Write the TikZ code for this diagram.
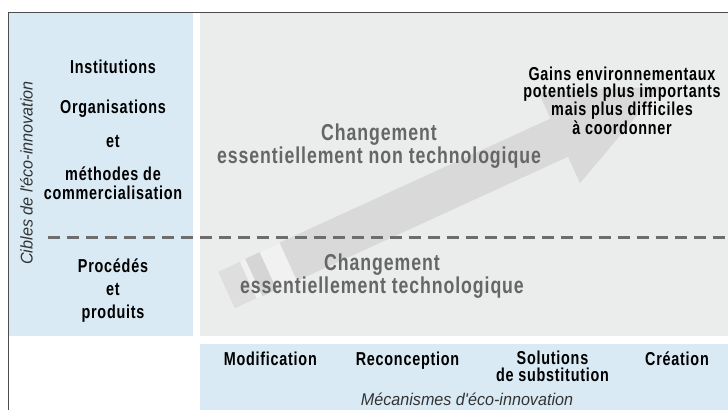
\documentclass[tikz,border=0pt]{standalone}
\usepackage{fontspec}
\setmainfont{Liberation Sans}
\newfontfamily\bcond[FakeStretch=0.77,LetterSpace=4]{Liberation Sans}
\newfontfamily\icond[FakeStretch=0.95]{Liberation Sans}
\definecolor{panelblue}{HTML}{DAEAF4}
\definecolor{panelgrey}{HTML}{EBECEC}
\definecolor{arrowgrey}{HTML}{D9D9DA}
\definecolor{arrowlight}{HTML}{DEDEDF}
\definecolor{arrowdark}{HTML}{D5D5D6}
\definecolor{stripe}{HTML}{F1F1F1}
\definecolor{dashgrey}{HTML}{6D6D6D}
\definecolor{greytext}{HTML}{666666}
\definecolor{framegrey}{HTML}{4D4D4D}
\definecolor{italtext}{HTML}{333333}
\tikzset{
  lab/.style={font=\bcond\bfseries\fontsize{18.7}{17.5}\selectfont, text=black, inner sep=0pt, anchor=base, align=center},
  big/.style={font=\bcond\bfseries\fontsize{23}{23}\selectfont, text=greytext, inner sep=0pt, anchor=base, align=center},
  ital/.style={font=\icond\itshape\fontsize{17}{17}\selectfont, text=italtext, inner sep=0pt, anchor=base},
  frameline/.style={draw=framegrey, line width=1.5pt},
  divider/.style={draw=dashgrey, line width=3pt, dash pattern=on 12.5pt off 6.5pt},
}
\begin{document}
\begin{tikzpicture}[x=1pt,y=-1pt]
\useasboundingbox (0,0) rectangle (728,410);
% panels
\fill[panelblue] (9,13) rectangle (193,336);
\fill[panelgrey] (200,13) rectangle (728,336);
\fill[panelblue] (200,344) rectangle (728,410);
% big arrow
\begin{scope}[shift={(226.5,290)}, rotate=24.6]
  \fill[arrowlight] (0,-20) rectangle (24,20);
  \fill[stripe] (24,-20) rectangle (30,20);
  \fill[arrowdark] (30,-20.5) rectangle (46,20.5);
  \fill[stripe] (46,-20.5) rectangle (68,20.5);
  \fill[arrowgrey] (68,-21) -- (366,-21) -- (366,-50) -- (480,-4) -- (366,50) -- (366,21) -- (68,21) -- cycle;
\end{scope}
% frame
\draw[frameline] (8.5,410) -- (8.5,12.5) -- (728,12.5);
% divider
\coordinate (dl) at (47.5,237.7);
\coordinate (dr) at (728,237.7);
\draw[divider] (dl) -- (dr);
% vertical label
\node[ital, rotate=90] (cibles) at (32.5,173) {Cibles de l'éco-innovation};
% left labels
\node[lab] (inst) at (113,73) {Institutions};
\node[lab] (orga) at (113,113) {Organisations};
\node[lab] (et1) at (113,147) {et};
\node[lab] (meth) at (113,180) {méthodes de};
\node[lab] (comm) at (113,199) {commercialisation};
\node[lab] (proc) at (113,272) {Procédés};
\node[lab] (et2) at (113,295) {et};
\node[lab] (prod) at (113,318) {produits};
% grey texts
\node[big] (ch1) at (379,140) {Changement};
\node[big] (ess1) at (379,163) {essentiellement non technologique};
\node[big] (ch2) at (382,270) {Changement};
\node[big] (ess2) at (382,293) {essentiellement technologique};
% gains (base anchor = last line)
\node[lab] (gains) at (622,134) {Gains environnementaux\\potentiels plus importants\\mais plus difficiles\\à coordonner};
% bottom
\node[lab] (modif) at (270.3,365) {Modification};
\node[lab] (recon) at (407.5,365) {Reconception};
\node[lab] (sol) at (552.5,381.5) {Solutions\\de substitution};
\node[lab] (crea) at (677,365) {Création};
\node[ital] (meca) at (467,405) {Mécanismes d'éco-innovation};
\end{tikzpicture}
\end{document}
